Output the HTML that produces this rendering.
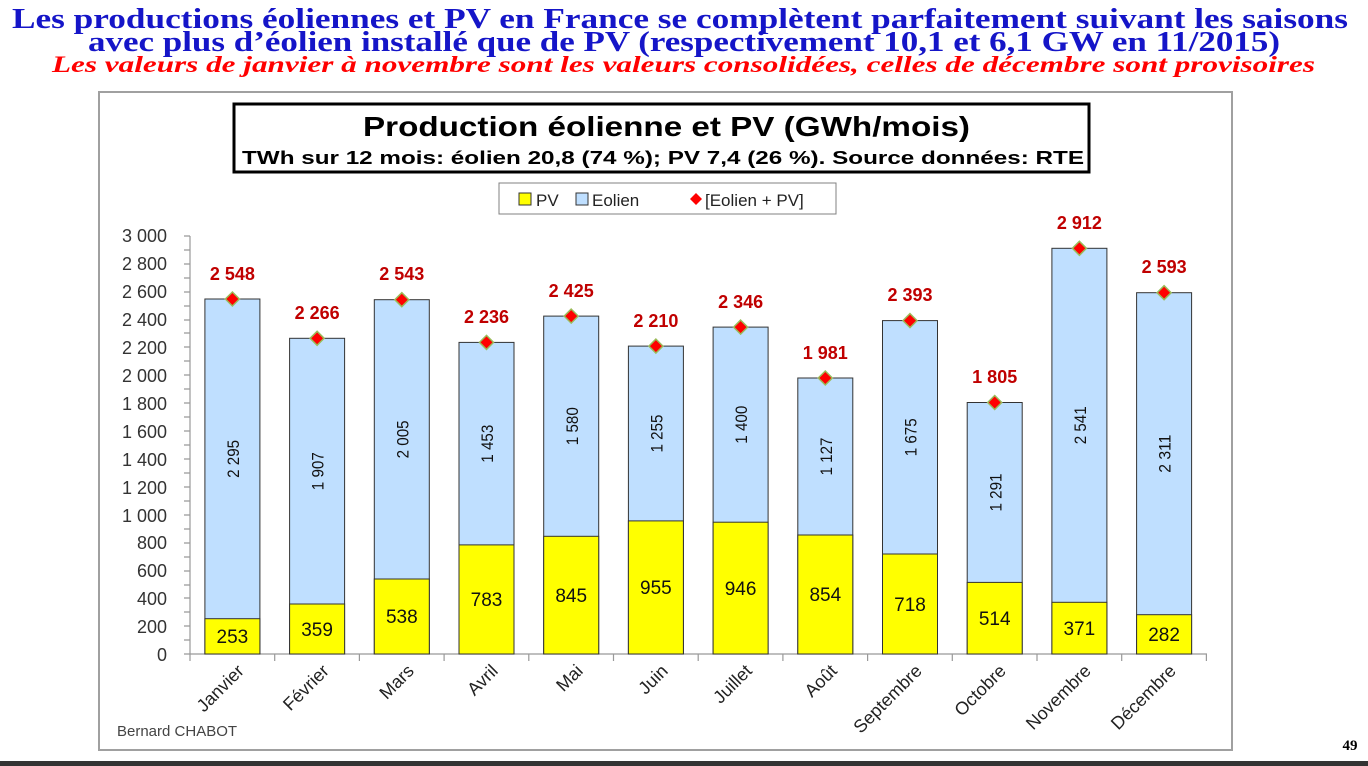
<!DOCTYPE html>
<html><head><meta charset="utf-8"><style>
html,body{margin:0;padding:0;background:#fff;}
svg{display:block;}
</style></head><body>
<svg width="1368" height="766" viewBox="0 0 1368 766" xmlns="http://www.w3.org/2000/svg">
<g font-family="Liberation Serif, serif" font-weight="bold" fill="#1515c8">
<text x="12" y="28" font-size="29" textLength="1336" lengthAdjust="spacingAndGlyphs">Les productions éoliennes et PV en France se complètent parfaitement suivant les saisons</text>
<text x="88" y="51" font-size="29" textLength="1192" lengthAdjust="spacingAndGlyphs">avec plus d’éolien installé que de PV (respectivement 10,1 et 6,1 GW en 11/2015)</text>
<text x="52" y="72" font-size="23" fill="#ff0000" font-style="italic" textLength="1263" lengthAdjust="spacingAndGlyphs">Les valeurs de janvier à novembre sont les valeurs consolidées, celles de décembre sont provisoires</text>
</g>
<rect x="99" y="92" width="1133" height="658" fill="#fff" stroke="#a0a0a0" stroke-width="2"/>
<rect x="234" y="104" width="855" height="68" fill="#fff" stroke="#000" stroke-width="3"/>
<g font-family="Liberation Sans, sans-serif" font-weight="bold" fill="#000">
<text x="363" y="136" font-size="28" textLength="607" lengthAdjust="spacingAndGlyphs">Production éolienne et PV (GWh/mois)</text>
<text x="242" y="164" font-size="18" textLength="842" lengthAdjust="spacingAndGlyphs">TWh sur 12 mois: éolien 20,8 (74 %); PV 7,4 (26 %).  Source données: RTE</text>
</g>
<rect x="499" y="183" width="337" height="31" fill="#fff" stroke="#808080" stroke-width="1"/>
<g font-family="Liberation Sans, sans-serif" font-size="17" fill="#222">
<rect x="519" y="193" width="12" height="12" fill="#ffff00" stroke="#333"/><text x="536" y="206">PV</text>
<rect x="576" y="193" width="12" height="12" fill="#bfdfff" stroke="#333"/><text x="592" y="206">Eolien</text>
<path d="M696 193 L702 199 L696 205 L690 199Z" fill="#ff0000"/><text x="705" y="206">[Eolien + PV]</text>
</g>
<g stroke="#999" stroke-width="1.2">
<line x1="190" y1="236" x2="190" y2="654"/>
<line x1="190" y1="654" x2="1207" y2="654"/>
<path d="M184 236H190M184 250H190M184 264H190M184 278H190M184 292H190M184 306H190M184 320H190M184 333H190M184 347H190M184 361H190M184 375H190M184 389H190M184 403H190M184 417H190M184 431H190M184 445H190M184 459H190M184 473H190M184 487H190M184 501H190M184 515H190M184 529H190M184 543H190M184 557H190M184 571H190M184 585H190M184 598H190M184 612H190M184 626H190M184 640H190M184 654H190"/>
<path d="M190 654V661M274.7 654V661M359.4 654V661M444.1 654V661M528.8 654V661M613.5 654V661M698.2 654V661M782.9 654V661M867.6 654V661M952.3 654V661M1037 654V661M1121.7 654V661M1206.4 654V661"/>
</g>
<g font-family="Liberation Sans, sans-serif" font-size="18" fill="#333" text-anchor="end">
<text x="167" y="242">3 000</text><text x="167" y="270">2 800</text><text x="167" y="298">2 600</text><text x="167" y="326">2 400</text><text x="167" y="354">2 200</text><text x="167" y="382">2 000</text><text x="167" y="410">1 800</text><text x="167" y="438">1 600</text><text x="167" y="466">1 400</text><text x="167" y="494">1 200</text><text x="167" y="522">1 000</text><text x="167" y="549">800</text><text x="167" y="577">600</text><text x="167" y="605">400</text><text x="167" y="633">200</text><text x="167" y="661">0</text>
</g>
<g stroke="#333" stroke-width="1">
<rect x="204.9" y="299" width="55" height="355" fill="#bfdfff"/><rect x="204.9" y="618.7" width="55" height="35.3" fill="#ffff00"/>
<rect x="289.6" y="338.3" width="55" height="315.7" fill="#bfdfff"/><rect x="289.6" y="604" width="55" height="50" fill="#ffff00"/>
<rect x="374.3" y="299.7" width="55" height="354.3" fill="#bfdfff"/><rect x="374.3" y="579" width="55" height="75" fill="#ffff00"/>
<rect x="459" y="342.4" width="55" height="311.6" fill="#bfdfff"/><rect x="459" y="544.9" width="55" height="109.1" fill="#ffff00"/>
<rect x="543.7" y="316.1" width="55" height="337.9" fill="#bfdfff"/><rect x="543.7" y="536.3" width="55" height="117.7" fill="#ffff00"/>
<rect x="628.4" y="346.1" width="55" height="307.9" fill="#bfdfff"/><rect x="628.4" y="520.9" width="55" height="133.1" fill="#ffff00"/>
<rect x="713.1" y="327.1" width="55" height="326.9" fill="#bfdfff"/><rect x="713.1" y="522.2" width="55" height="131.8" fill="#ffff00"/>
<rect x="797.8" y="378" width="55" height="276" fill="#bfdfff"/><rect x="797.8" y="535" width="55" height="119" fill="#ffff00"/>
<rect x="882.5" y="320.6" width="55" height="333.4" fill="#bfdfff"/><rect x="882.5" y="554" width="55" height="100" fill="#ffff00"/>
<rect x="967.2" y="402.5" width="55" height="251.5" fill="#bfdfff"/><rect x="967.2" y="582.4" width="55" height="71.6" fill="#ffff00"/>
<rect x="1051.9" y="248.3" width="55" height="405.7" fill="#bfdfff"/><rect x="1051.9" y="602.3" width="55" height="51.7" fill="#ffff00"/>
<rect x="1136.6" y="292.7" width="55" height="361.3" fill="#bfdfff"/><rect x="1136.6" y="614.7" width="55" height="39.3" fill="#ffff00"/>
</g>
<g font-family="Liberation Sans, sans-serif" font-size="19" fill="#111" text-anchor="middle">
<text x="232.4" y="643">253</text><text x="317.1" y="636">359</text><text x="401.8" y="623">538</text><text x="486.5" y="606">783</text><text x="571.2" y="602">845</text><text x="655.9" y="594">955</text><text x="740.6" y="595">946</text><text x="825.3" y="601">854</text><text x="910" y="611">718</text><text x="994.7" y="625">514</text><text x="1079.4" y="635">371</text><text x="1164.1" y="641">282</text>
</g>
<g font-family="Liberation Sans, sans-serif" font-size="17" fill="#111" text-anchor="middle">
<text transform="translate(239,458.9) rotate(-90)" textLength="38" lengthAdjust="spacingAndGlyphs">2 295</text>
<text transform="translate(323.7,471.2) rotate(-90)" textLength="38" lengthAdjust="spacingAndGlyphs">1 907</text>
<text transform="translate(408.4,439.4) rotate(-90)" textLength="38" lengthAdjust="spacingAndGlyphs">2 005</text>
<text transform="translate(493.1,443.7) rotate(-90)" textLength="38" lengthAdjust="spacingAndGlyphs">1 453</text>
<text transform="translate(577.8,426.2) rotate(-90)" textLength="38" lengthAdjust="spacingAndGlyphs">1 580</text>
<text transform="translate(662.5,433.5) rotate(-90)" textLength="38" lengthAdjust="spacingAndGlyphs">1 255</text>
<text transform="translate(747.2,424.7) rotate(-90)" textLength="38" lengthAdjust="spacingAndGlyphs">1 400</text>
<text transform="translate(831.9,456.5) rotate(-90)" textLength="38" lengthAdjust="spacingAndGlyphs">1 127</text>
<text transform="translate(916.6,437.3) rotate(-90)" textLength="38" lengthAdjust="spacingAndGlyphs">1 675</text>
<text transform="translate(1001.3,492.5) rotate(-90)" textLength="38" lengthAdjust="spacingAndGlyphs">1 291</text>
<text transform="translate(1086,425.3) rotate(-90)" textLength="38" lengthAdjust="spacingAndGlyphs">2 541</text>
<text transform="translate(1170.7,453.7) rotate(-90)" textLength="38" lengthAdjust="spacingAndGlyphs">2 311</text>
</g>
<g fill="#ff0000" stroke="#9bbb59" stroke-width="1.5">
<path d="M232.4 292l7 7-7 7-7-7z"/><path d="M317.1 331.3l7 7-7 7-7-7z"/><path d="M401.8 292.7l7 7-7 7-7-7z"/><path d="M486.5 335.4l7 7-7 7-7-7z"/><path d="M571.2 309.1l7 7-7 7-7-7z"/><path d="M655.9 339.1l7 7-7 7-7-7z"/><path d="M740.6 320.1l7 7-7 7-7-7z"/><path d="M825.3 371l7 7-7 7-7-7z"/><path d="M910 313.6l7 7-7 7-7-7z"/><path d="M994.7 395.5l7 7-7 7-7-7z"/><path d="M1079.4 241.3l7 7-7 7-7-7z"/><path d="M1164.1 285.7l7 7-7 7-7-7z"/>
</g>
<g font-family="Liberation Sans, sans-serif" font-size="18" font-weight="bold" fill="#c00000" text-anchor="middle">
<text x="232.4" y="280">2 548</text><text x="317.1" y="319">2 266</text><text x="401.8" y="280">2 543</text><text x="486.5" y="323">2 236</text><text x="571.2" y="297">2 425</text><text x="655.9" y="327">2 210</text><text x="740.6" y="308">2 346</text><text x="825.3" y="359">1 981</text><text x="910" y="301">2 393</text><text x="994.7" y="383">1 805</text><text x="1079.4" y="229">2 912</text><text x="1164.1" y="273">2 593</text>
</g>
<g font-family="Liberation Sans, sans-serif" font-size="18" fill="#222" text-anchor="end">
<text transform="translate(245,672) rotate(-45)">Janvier</text>
<text transform="translate(330,672) rotate(-45)">Février</text>
<text transform="translate(415,672) rotate(-45)">Mars</text>
<text transform="translate(499,672) rotate(-45)">Avril</text>
<text transform="translate(584,672) rotate(-45)">Mai</text>
<text transform="translate(669,672) rotate(-45)">Juin</text>
<text transform="translate(753,672) rotate(-45)">Juillet</text>
<text transform="translate(838,672) rotate(-45)">Août</text>
<text transform="translate(923,672) rotate(-45)">Septembre</text>
<text transform="translate(1007,672) rotate(-45)">Octobre</text>
<text transform="translate(1092,672) rotate(-45)">Novembre</text>
<text transform="translate(1177,672) rotate(-45)">Décembre</text>
</g>
<text x="117" y="736" font-family="Liberation Sans, sans-serif" font-size="15" fill="#444">Bernard CHABOT</text>
<text x="1350" y="750" font-family="Liberation Serif, serif" font-size="15" font-weight="bold" fill="#000" text-anchor="middle">49</text>
<rect x="0" y="761" width="1368" height="5" fill="#333"/>
</svg>
</body></html>
